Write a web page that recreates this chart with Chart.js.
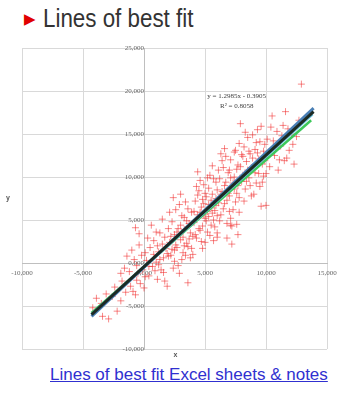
<!DOCTYPE html>
<html>
<head>
<meta charset="utf-8">
<script src="https://cdn.jsdelivr.net/npm/chart.js@4/dist/chart.umd.min.js"></script>
<style>
	html, body { margin: 0; padding: 0; background: #fff; }
	body { width: 346px; height: 396px; position: relative; overflow: hidden; font-family: 'Liberation Sans', Arial, sans-serif; }
	#arrow { position: absolute; left: 24px; top: 10px; color: #e00000; font-size: 15px; }
	#title { position: absolute; left: 43px; top: 3px; font-size: 26px; color: #333; white-space: nowrap; transform: scaleX(0.86); transform-origin: left top; }
	#wrap { position: absolute; left: 0; top: 40px; width: 346px; height: 322px; }
	#chart-fit { filter: blur(0.5px); }
	#link { position: absolute; left: 50px; top: 365px; font-size: 17px; color: #3030d0; text-decoration: underline; white-space: nowrap; }
</style>
</head>
<body>
<div id="arrow">&#9654;</div>
<div id="title">Lines of best fit</div>
<div id="wrap"><canvas id="chart-fit"></canvas></div>
<a id="link" href="#">Lines of best fit Excel sheets &amp; notes</a>

<script>
// Scatter data (thousands)
const pointsX = [
	-4.2, -3.9, -3.4, -2.9, -3.5, -2.6, -2.2, -3.1, -2.4, -1.9,
	-1.8, -1.5, -1.2, -0.9, -0.7, -0.5, -0.3, 0.0, -1.6, -1.1, -0.8, -0.2, -1.4, -0.6, 0.1, -0.4, -1.0, -0.1, -1.9, -0.6, -0.7, -0.4,
	0.2, 0.4, 0.5, 0.7, 0.8, 1.0, 1.1, 1.2, 1.3, 1.4, 1.5, 1.6, 1.7, 1.8, 1.9, 0.3, 0.6, 0.9, 1.1, 1.3, 1.5, 1.7, 1.9, 0.1, 0.4, 0.8, 1.2, 1.6, 2.0, 1.0,
	2.1, 2.2, 2.3, 2.4, 2.5, 2.6, 2.7, 2.8, 2.9, 3.0, 3.1, 3.2, 3.3, 3.4, 3.5, 3.6, 3.7, 3.8, 3.9, 4.0,
	2.1, 2.3, 2.5, 2.7, 2.9, 3.1, 3.3, 3.5, 3.7, 3.9, 2.2, 2.6, 3.0, 3.4, 3.8, 2.4, 2.8, 3.2, 3.6, 4.0, 2.0, 3.0, 3.6, 2.5, 3.3,
	4.1, 4.2, 4.3, 4.4, 4.5, 4.6, 4.7, 4.8, 4.9, 5.0, 5.1, 5.2, 5.3, 5.4, 5.5, 5.6, 5.7, 5.8, 5.9, 6.0,
	4.1, 4.3, 4.5, 4.7, 4.9, 5.1, 5.3, 5.5, 5.7, 5.9, 4.2, 4.4, 4.6, 4.8, 5.0, 5.2, 5.4, 5.6, 5.8, 6.0,
	4.4, 4.8, 5.2, 5.6, 6.0, 5.0, 5.5, 4.6, 5.3, 5.9, 4.9, 5.7,
	6.1, 6.2, 6.3, 6.4, 6.5, 6.6, 6.7, 6.8, 6.9, 7.0, 7.1, 7.2, 7.3, 7.4, 7.5, 7.6, 7.7, 7.8, 7.9, 8.0,
	6.1, 6.3, 6.5, 6.7, 6.9, 7.1, 7.3, 7.5, 7.7, 7.9, 6.2, 6.4, 6.6, 6.8, 7.0, 7.2, 7.4, 7.6, 7.8, 8.0,
	6.6, 7.0, 7.4, 7.8, 6.0, 7.2, 6.8, 7.6, 6.3, 7.1, 7.9, 7.7, 7.1,
	8.1, 8.2, 8.3, 8.4, 8.5, 8.6, 8.7, 8.8, 8.9, 9.0, 9.1, 9.2, 9.3, 9.4, 9.5, 9.6, 9.7, 9.8, 9.9, 10.0,
	8.1, 8.3, 8.5, 8.7, 8.9, 9.1, 9.3, 9.5, 9.7, 9.9, 8.2, 8.6, 9.0, 9.4, 9.8, 9.6, 8.4, 8.8, 9.2, 10.0,
	10.1, 10.3, 10.5, 10.6, 10.7, 10.9, 11.0, 11.2, 11.4, 11.6, 11.7, 11.9, 12.1, 12.3, 12.5, 12.9,
	10.2, 10.4, 10.8, 11.1, 11.3, 11.5, 11.8, 12.2, 12.7, 10.0,
];
const pointsY = [
	-5.2, -4.1, -6.2, -6.5, -4.7, -3.9, -5.6, -3.6, -2.8, -4.4,
	-2.1, -3.4, -1.0, -3.3, -3.7, -1.2, -2.4, -2.9, -0.6, -2.7, 0.4, 0.9, 0.8, -0.3, -1.6, 2.1, 1.5, -0.8, -1.2, -2.0, 4.1, 3.4,
	0.3, -1.5, 1.8, -0.4, 2.6, 0.1, -1.9, 1.3, 3.5, -0.8, 2.2, 0.6, -2.1, 1.7, -2.7, 2.9, 4.4, -0.9, 2.0, 0.4, 5.1, 3.0, 1.1, 1.2, -0.4, 1.0, -0.2, -1.1, 0.8, 3.6,
	2.4, 0.9, 4.8, -0.6, 3.3, 6.2, 1.8, 4.0, -1.2, 2.7, 5.5, 1.2, 3.9, 7.1, 2.3, -2.3, 4.6, 0.6, 5.9, 3.1,
	5.9, 1.6, 0.2, 3.6, 6.8, 0.4, 2.0, 4.9, 2.8, 1.7, 3.1, 2.1, 4.4, 0.9, 3.5, 7.6, -0.3, 3.0, 6.3, 1.0, 4.0, 8.0, 1.9, 1.5, 5.3,
	4.7, 7.2, 2.9, 5.6, 8.4, 3.8, 6.5, 1.7, 9.1, 5.2, 7.7, 3.6, 6.8, 10.2, 4.4, 8.0, 2.6, 6.1, 9.4, 5.5,
	6.0, 8.9, 4.0, 2.5, 6.9, 4.9, 8.7, 6.4, 5.0, 7.5, 3.3, 7.9, 5.9, 4.3, 8.1, 6.0, 3.2, 5.8, 4.2, 8.5,
	10.6, 7.4, 9.9, 11.3, 3.5, 2.4, 7.3, 9.6, 5.4, 6.7, 5.6, 9.8,
	7.0, 9.8, 5.6, 8.3, 11.1, 6.9, 9.4, 4.6, 10.5, 7.8, 12.0, 8.9, 6.2, 10.0, 13.1, 8.1, 11.4, 5.9, 9.7, 12.6,
	10.8, 8.0, 6.3, 12.4, 8.1, 5.2, 9.3, 7.1, 9.0, 11.2, 4.9, 11.9, 9.0, 7.3, 10.8, 4.3, 8.6, 10.9, 7.6, 9.5,
	13.3, 6.0, 12.9, 13.9, 3.0, 2.2, 2.9, 4.5, 12.7, 9.9, 16.2, 3.3, 4.4,
	10.2, 13.5, 8.6, 11.8, 14.6, 9.9, 12.7, 7.8, 14.9, 11.0, 13.2, 9.3, 15.5, 12.1, 8.9, 15.9, 11.5, 10.1, 13.8, 6.7,
	12.4, 15.2, 10.8, 9.0, 12.2, 10.5, 12.8, 14.1, 9.4, 11.9, 7.2, 13.0, 8.0, 10.4, 13.0, 6.6, 9.5, 11.1, 14.0, 12.3,
	14.4, 11.2, 17.1, 14.2, 12.5, 15.3, 10.8, 13.6, 16.0, 17.6, 12.2, 13.1, 15.0, 11.5, 14.7, 20.8,
	12.9, 15.8, 13.4, 12.0, 14.8, 11.9, 15.6, 13.8, 16.6, 10.4,
];

// Fitted lines, end points only
const fitNames = ['Green', 'Light blue', 'Blue', 'Black'];
const fitColors = ['#3cc85a', '#6cc4e4', '#4a7fb5', '#1c2a24'];
const fitWidths = [2.5, 3, 3, 3];
const fitX = [
	[-4.3, 13.7],
	[-4.3, 13.8],
	[-4.3, 13.9],
	[-4.3, 13.9],
];
const fitY = [
	[-5.8, 16.6],
	[-6.0, 17.3],
	[-6.2, 18.0],
	[-6.0, 17.6],
];

const xTickLabels = ['-10,000', '-5,000', '0,000', '5,000', '10,000', '15,000'];
const yTickLabels = ['-10,000', '-5,000', '0,000', '5,000', '10,000', '15,000', '20,000', '25,000'];
const equationLines = ['y = 1.2985x - 0.3905', 'R\u00b2 = 0.8058'];

// Extra text: trendline equation and axis letters
const notesPlugin = {
	id: 'notes',
	afterDatasetsDraw(chart) {
		const { ctx, scales, chartArea } = chart;
		ctx.save();
		ctx.fillStyle = '#404040';
		ctx.textAlign = 'center';
		ctx.textBaseline = 'middle';
		ctx.font = '7px "Liberation Serif", serif';
		const ex = scales.x.getPixelForValue(7.6);
		ctx.fillText(equationLines[0], ex, scales.y.getPixelForValue(19.4));
		ctx.fillText(equationLines[1], ex, scales.y.getPixelForValue(18.2));
		ctx.font = 'bold 7px "Liberation Sans", sans-serif';
		ctx.fillStyle = '#555';
		ctx.fillText('y', 8, (chartArea.top + chartArea.bottom) / 2);
		ctx.fillText('x', (chartArea.left + chartArea.right) / 2 + 1, chartArea.bottom + 6);
		ctx.restore();
	},
};

!(function () {
	const ctx = document.getElementById('chart-fit');

	const datasets = [
		{
			label: 'Data',
			data: pointsX.map((x, i) => ({ x: x, y: pointsY[i] })),
			pointStyle: 'cross',
			pointRadius: 3.5,
			pointBorderWidth: 1,
			borderColor: 'rgba(240, 40, 40, 0.55)',
			backgroundColor: 'rgba(240, 40, 40, 0.55)',
			order: 10,
		},
	];
	fitNames.forEach((name, k) => {
		datasets.push({
			label: name,
			data: fitX[k].map((x, i) => ({ x: x, y: fitY[k][i] })),
			showLine: true,
			pointRadius: 0,
			borderColor: fitColors[k],
			borderWidth: fitWidths[k],
			order: 5 - k,
		});
	});

	new Chart(ctx, {
		type: 'scatter',
		data: { datasets: datasets },
		plugins: [notesPlugin],
		options: {
			responsive: true,
			maintainAspectRatio: false,
			animation: false,
			layout: { padding: { left: 22, right: 19, top: 8, bottom: 13 } },
			scales: {
				x: {
					type: 'linear',
					position: { y: 0 },
					min: -10,
					max: 15,
					ticks: {
						stepSize: 5,
						maxRotation: 0,
						color: '#666',
						font: { size: 7, family: '"Liberation Serif", serif' },
						callback: (v, i) => xTickLabels[i],
					},
					grid: { color: '#d9d9d9', tickLength: 3 },
					border: { color: '#bfbfbf' },
				},
				y: {
					type: 'linear',
					position: { x: 0 },
					min: -10,
					max: 25,
					ticks: {
						stepSize: 5,
						color: '#666',
						font: { size: 7, family: '"Liberation Serif", serif' },
						callback: (v, i) => yTickLabels[i],
					},
					grid: { color: '#d9d9d9', tickLength: 3 },
					border: { color: '#bfbfbf' },
				},
			},
			plugins: {
				legend: { display: false },
				tooltip: { enabled: false },
			},
		},
	});
})();
</script>
</body>
</html>
